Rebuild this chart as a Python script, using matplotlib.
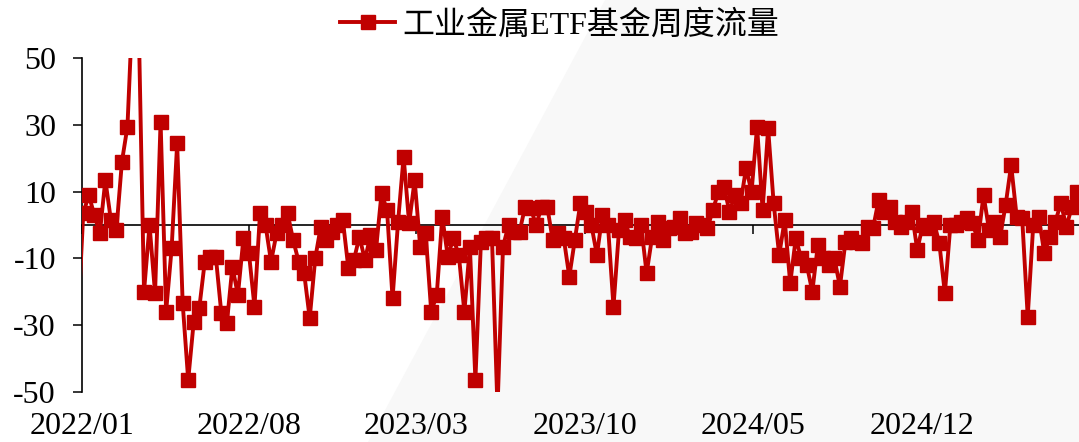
import matplotlib
matplotlib.use("Agg")
import matplotlib.pyplot as plt
from matplotlib.patches import Polygon
import pandas as pd

# ? Weekly flow values (first one sits just before the axis start)
flow_prior = [-30]
flow_2022a = [3.5, 9, 3, -2.5, 13.5, 1.5, -1.5, 19, 29.5, 68, 64, -20, 0, -20.5, 31, -26,
              -7, 24.5, -23.5, -46.5, -29, -25, -11, -9.5, -9.5, -26.5, -29.5, -12.5, -21,
              -4, -8.5, -24.5]
flow_2022b = [3.5, 0, -11, -2.5, 0, 3.5, -4.5, -11, -14.5, -28, -10, -0.5, -4.5, -2, 0, 1.5,
              -13, -10.5, -3.5, -10.5, -3, -7.5, 9.5, 4.5, -22, 1, 20.5, 0.5, 13.5, -6.5,
              -2.5, -26, -21]
flow_2023a = [2.5, -9.5, -4, -9, -26, -6.5, -46.5, -5, -4, -4, -55, -6.5, 0, -2, -2, 5.5, 5,
              0, 5.5, 5.5, -4.5, -2.5, -4, -15.5, -4.5, 6.5, 4, 0, -9, 3, 0, -24.5]
flow_2023b = [-1.5, 1.5, -3.5, -4, 0, -14.5, -3.5, 1, -4.5, -1, -0.5, 2, -2.5, -2, 0.5, 0, -1,
              4.5, 10, 11.5, 4, 9, 6.5, 17, 10, 29.5, 4.5, 29, 6.5, -9, 1.5, -17.5, -4]
flow_2024a = [-10, -12, -20, -6, -10, -12, -10, -18.5, -5, -4, -5, -5.5, -0.5, -1, 7.5, 4,
              5.5, 1, -0.5, 1, 4, -7.5, 0]
flow_2024b = [-1, 1, -5.5, -20.5, 0, 0, 1, 2, 0.5, -4.5, 9, -1.5, 1, -3.5, 6, 18, 2.5, 2,
              -27.5, 0, 2.5, -8.5, -3.5, 1, 6.5, -0.5, 5.5, 10]

values = flow_prior + flow_2022a + flow_2022b + flow_2023a + flow_2023b + flow_2024a + flow_2024b
dates = pd.date_range("2021-12-27", periods=len(values), freq="7D")

tick_labels = ["2022/01", "2022/08", "2023/03", "2023/10", "2024/05", "2024/12"]
tick_dates = pd.to_datetime(["2022-01-01", "2022-08-01", "2023-03-01",
                             "2023-10-01", "2024-05-01", "2024-12-01"])
y_ticks = [-50, -30, -10, 10, 30, 50]
series_name = "工业金属ETF基金周度流量"

plt.rcParams['font.family'] = ['Liberation Serif', 'Noto Sans CJK SC']
plt.rcParams['axes.unicode_minus'] = False

fig = plt.figure(figsize=(10.79, 4.42), dpi=100)

# ? light grey diagonal band in the background
fig.patches.append(Polygon([[605 / 1079, 1], [1, 1], [1, 0], [368 / 1079, 0]], closed=True,
                           transform=fig.transFigure, facecolor='#f8f8f8',
                           edgecolor='none', zorder=-5))

ax = fig.add_axes([0.0757, 0.1138, 0.9243, 0.7543])
ax.set_facecolor('none')
ax.set_zorder(2)

# ? no marker on the clipped point before the axis start
ax.plot(dates, values, color='#c00000', lw=2.8, marker='s', ms=10.5,
        markevery=slice(1, None), label=series_name, zorder=3)

start = pd.Timestamp("2022-01-01")
ax.set_xlim(start, start + pd.Timedelta(days=1264))
ax.set_ylim(-50, 50)
ax.set_yticks(y_ticks)
ax.set_xticks(tick_dates)
ax.set_xticklabels(tick_labels)

ax.spines['bottom'].set_position(('data', 0))
ax.spines['top'].set_visible(False)
ax.spines['right'].set_visible(False)
for s in ['bottom', 'left']:
    ax.spines[s].set_linewidth(1.2)

ax.tick_params(axis='x', direction='out', length=6.5, width=1.1, pad=128, labelsize=23)
ax.tick_params(axis='y', direction='out', length=6.5, width=1.1, pad=12, labelsize=23)

ax.legend(loc='center', bbox_to_anchor=(0.519, 0.943), bbox_transform=fig.transFigure,
          frameon=False, fontsize=23, handlelength=1.7, handletextpad=0.25)

fig.savefig("out.png", dpi=100)
